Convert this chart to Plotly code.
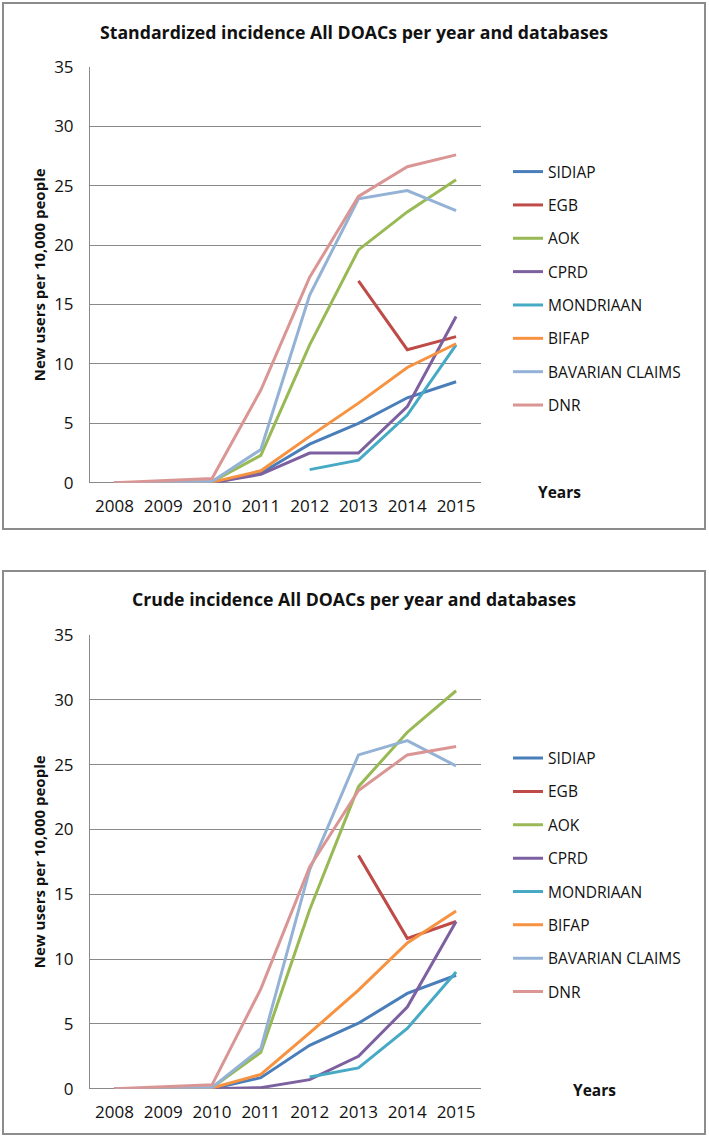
import plotly.graph_objs as go
from plotly.subplots import make_subplots

years = ['2008', '2009', '2010', '2011', '2012', '2013', '2014', '2015']
databases = ['SIDIAP', 'EGB', 'AOK', 'CPRD', 'MONDRIAAN', 'BIFAP', 'BAVARIAN CLAIMS', 'DNR']
colors = ['#4A7EBB', '#BE4B48', '#98B954', '#7D60A0', '#46AAC5', '#F69240', '#94B2D6', '#DA9694']

# standardized incidence (new users per 10,000 people)
std_sidiap = [0, 0, 0, 0.8, 3.25, 5.0, 7.15, 8.5]
std_egb = [None, None, None, None, None, 17.0, 11.2, 12.3]
std_aok = [0, 0.02, 0.08, 2.3, 11.6, 19.6, 22.8, 25.5]
std_cprd = [0, 0, 0, 0.7, 2.5, 2.5, 6.4, 14.0]
std_mondriaan = [None, None, None, None, 1.1, 1.9, 5.7, 11.6]
std_bifap = [0, 0, 0.05, 1.0, 3.9, 6.7, 9.7, 11.7]
std_bavarian = [0, 0.03, 0.1, 2.8, 15.8, 23.9, 24.6, 22.9]
std_dnr = [0, 0.15, 0.35, 7.8, 17.3, 24.1, 26.6, 27.6]

# crude incidence (new users per 10,000 people)
crude_sidiap = [0, 0, 0, 0.85, 3.35, 5.05, 7.35, 8.75]
crude_egb = [None, None, None, None, None, 18.0, 11.6, 12.9]
crude_aok = [0, 0.02, 0.08, 2.8, 13.8, 23.3, 27.5, 30.7]
crude_cprd = [0, 0, 0, 0.08, 0.7, 2.5, 6.3, 12.9]
crude_mondriaan = [None, None, None, None, 0.9, 1.6, 4.65, 9.0]
crude_bifap = [0, 0, 0.05, 1.1, 4.3, 7.6, 11.25, 13.7]
crude_bavarian = [0, 0.03, 0.1, 3.1, 16.9, 25.75, 26.85, 24.9]
crude_dnr = [0, 0.15, 0.3, 7.7, 17.1, 23.0, 25.75, 26.4]

std_series = [std_sidiap, std_egb, std_aok, std_cprd, std_mondriaan, std_bifap, std_bavarian, std_dnr]
crude_series = [crude_sidiap, crude_egb, crude_aok, crude_cprd, crude_mondriaan, crude_bifap, crude_bavarian, crude_dnr]

W, H = 709, 1138
FONT = 'Open Sans'
GRID = '#8A8A8A'


def px_x(x):
    return x / W


def px_y(y):
    return 1 - y / H


fig = make_subplots(rows=2, cols=1)

for row, series, leg in [(1, std_series, 'legend'), (2, crude_series, 'legend2')]:
    for name, vals, col in zip(databases, series, colors):
        fig.add_trace(
            go.Scatter(mode='lines', name=name, x=years, y=vals,
                       line=dict(color=col, width=3),
                       legend=leg, legendgroup=f'{leg}_{name}',
                       hovertemplate='%{x}: %{y}<extra>' + name + '</extra>'),
            row=row, col=1)

fig.update_xaxes(type='category', range=[-0.5, 7.5], showgrid=False,
                 showline=False, zeroline=False, ticks='',
                 tickfont=dict(family=FONT, size=17, color='#111111'),
                 ticklabelstandoff=11)
fig.update_yaxes(range=[0, 35], dtick=5, showline=True, linecolor=GRID, linewidth=1,
                 showgrid=True, gridcolor=GRID, gridwidth=1,
                 zeroline=True, zerolinecolor=GRID, zerolinewidth=1,
                 ticks='', ticklabelstandoff=12,
                 tickfont=dict(family=FONT, size=17, color='#111111'),
                 title=dict(text='<b>New users per 10,000 people</b>',
                            font=dict(family=FONT, size=15, color='#111111'), standoff=4))

fig.update_layout(
    xaxis=dict(domain=[px_x(90), px_x(480.5)]),
    xaxis2=dict(domain=[px_x(90), px_x(480.5)]),
    yaxis=dict(domain=[px_y(482.7), px_y(67)]),
    yaxis2=dict(domain=[px_y(1088.7), px_y(635)]),
)

legend_common = dict(
    font=dict(family=FONT, size=15.5, color='#111111'),
    bgcolor='rgba(0,0,0,0)', traceorder='grouped', tracegroupgap=10.2,
    xanchor='left', yanchor='top', itemwidth=30,
)
fig.update_layout(
    legend=dict(x=px_x(508), y=px_y(155), **legend_common),
    legend2=dict(x=px_x(508), y=px_y(741.5), **legend_common),
)

# chart boxes
for y0, y1 in [(3, 529), (571, 1134)]:
    fig.add_shape(type='rect', xref='paper', yref='paper',
                  x0=px_x(3), x1=px_x(705), y0=px_y(y1), y1=px_y(y0),
                  line=dict(color='#8C8C8C', width=2))

titles = [('Standardized incidence All DOACs per year and databases', 31.7),
          ('Crude incidence All DOACs per year and databases', 599)]
for text, y in titles:
    fig.add_annotation(text=f'<b>{text}</b>', xref='paper', yref='paper',
                       x=px_x(354), y=px_y(y), xanchor='center', yanchor='middle',
                       showarrow=False,
                       font=dict(family=FONT, size=17.7, color='#111111'))

for x, y in [(559, 492), (594, 1090)]:
    fig.add_annotation(text='<b>Years</b>', xref='paper', yref='paper',
                       x=px_x(x), y=px_y(y), xanchor='center', yanchor='middle',
                       showarrow=False,
                       font=dict(family=FONT, size=15.5, color='#111111'))

fig.update_layout(
    width=W, height=H,
    margin=dict(l=0, r=0, t=0, b=0),
    template='none',
    plot_bgcolor='white', paper_bgcolor='white',
    showlegend=True,
    hovermode='closest')

fig.write_html('out.html', config={'displayModeBar': False},
               post_script="document.body.style.margin = '0';")
